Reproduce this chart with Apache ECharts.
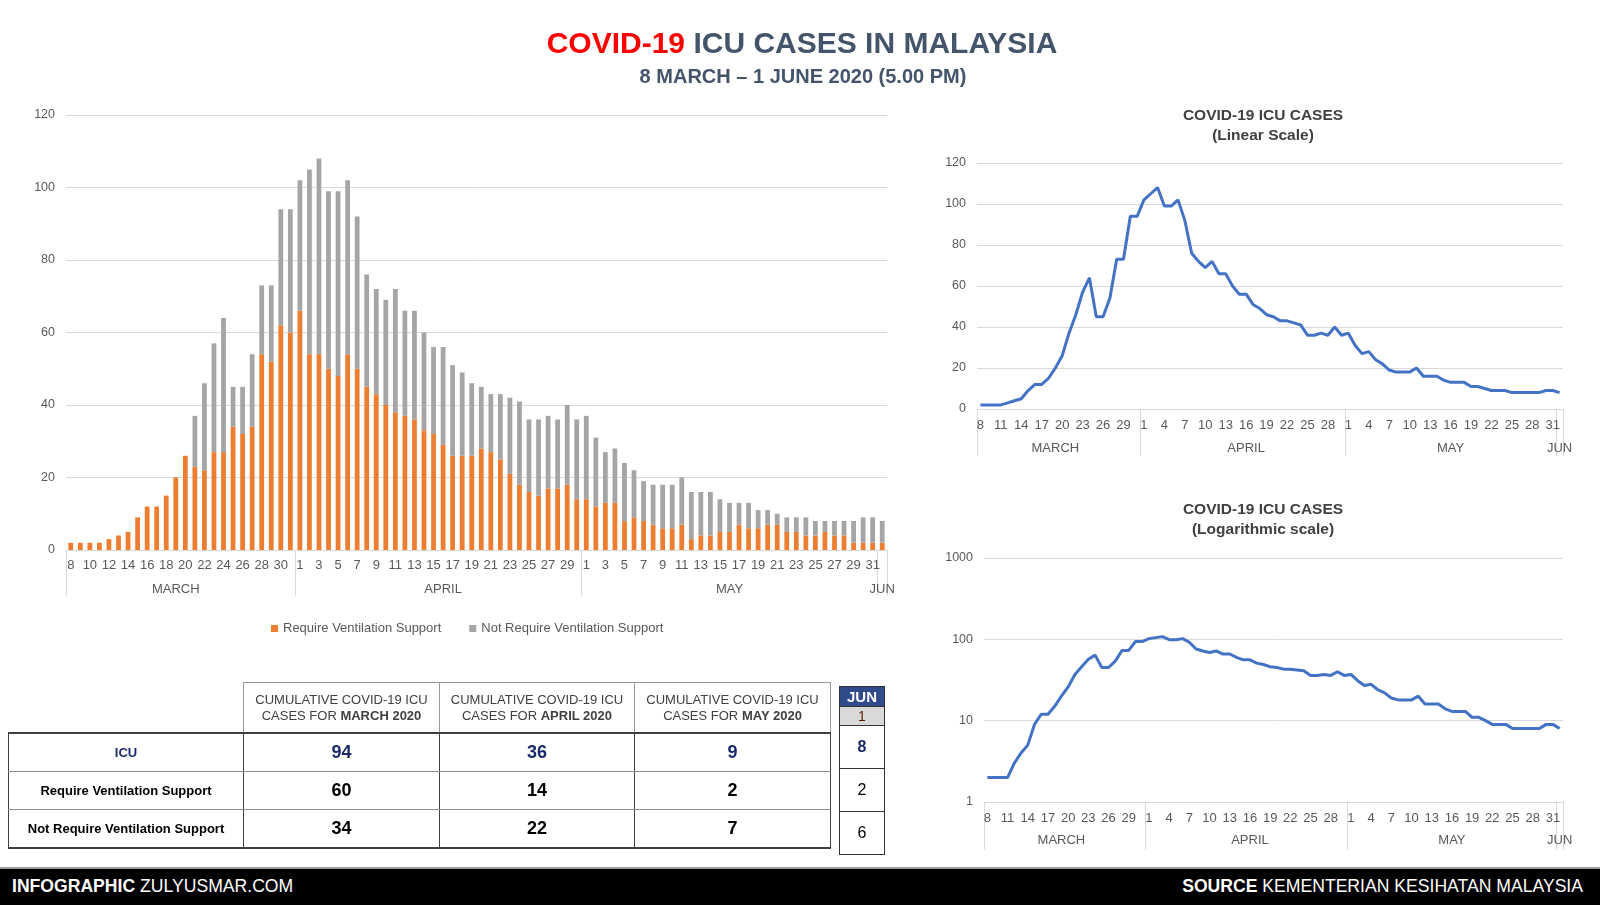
<!DOCTYPE html>
<html>
<head>
<meta charset="utf-8">
<title>COVID-19 ICU Cases in Malaysia</title>
<script src="https://cdn.jsdelivr.net/npm/echarts@6/dist/echarts.min.js"></script>
<style>
  html, body { margin: 0; padding: 0; background: #fff; }
  #page { position: relative; width: 1600px; height: 905px; overflow: hidden; font-family: 'Liberation Sans', Arial, sans-serif; }
  #echarts { position: absolute; left: 0; top: 0; width: 1600px; height: 905px; }
  #summary { position: absolute; left: 8px; top: 682px; border-collapse: collapse; table-layout: fixed; }
  #summary td { text-align: center; padding: 0; }
  #summary tr.hd td { height: 49px; font-size: 13px; line-height: 16px; color: #404040; border: 1px solid #9a9a9a; border-bottom: 2px solid #404040; }
  #summary tr.hd td.blank { border: none; border-bottom: 2px solid #404040; }
  #summary tr.row td { height: 37px; border: 1px solid #404040; border-top: 1px solid #8c8c8c; border-bottom: 1px solid #8c8c8c; font-weight: bold; font-size: 18px; color: #000; }
  #summary tr.row td.lab { font-size: 13px; }
  #summary tr.row.first td { color: #1b2a6b; }
  #summary tr.row.last td { border-bottom: 2px solid #404040; }
  #jun { position: absolute; left: 839px; top: 686px; width: 46px; border-collapse: collapse; }
  #jun td { text-align: center; padding: 0; border: 1px solid #333; font-size: 16px; }
  #jun td.m { background: #2f4b8c; color: #fff; font-weight: bold; font-size: 15px; height: 19px; }
  #jun td.d { background: #d9d9d9; color: #5a1a00; font-size: 14px; height: 18px; }
  #jun td.v { height: 42px; color: #000; }
  #jun td.v.b { color: #1b2a6b; font-weight: bold; }
  #footer { position: absolute; left: 0; top: 867px; width: 1600px; height: 38px; background: #000; border-top: 2px solid #9a9a9a; color: #fff; font-size: 17.6px; line-height: 34px; }
  #footer .l { position: absolute; left: 12px; }
  #footer .r { position: absolute; right: 17px; }
</style>
</head>
<body>
<div id="page">
  <div id="echarts"></div>
  <table id="summary"></table>
  <table id="jun"></table>
  <div id="footer">
    <span class="l"><b>INFOGRAPHIC</b> ZULYUSMAR.COM</span>
    <span class="r"><b>SOURCE</b> KEMENTERIAN KESIHATAN MALAYSIA</span>
  </div>
</div>
<script>
// months on the category axis: 8 Mar .. 1 Jun
var monthNames = ['MARCH', 'APRIL', 'MAY', 'JUN'];
var monthDays = [[8, 31], [1, 30], [1, 31], [1, 1]];
var monthLabelAt = [11, 39, 69, 85];

// daily ICU cases, 8 Mar .. 1 Jun
var requireVent = [
    2, 2, 2, 2, 3, 4, 5, 9, 12, 12, 15, 20, 26, 23, 22, 27, 27, 34, 32, 34, 54, 52, 62, 60,
    66, 54, 54, 50, 48, 54, 50, 45, 43, 40, 38, 37, 36, 33, 32, 29, 26, 26, 26, 28, 27, 25, 21, 18, 16, 15, 17, 17, 18, 14,
    14, 12, 13, 13, 8, 9, 8, 7, 6, 6, 7, 3, 4, 4, 5, 5, 7, 6, 6, 7, 7, 5, 5, 4, 4, 5, 4, 4, 2, 2, 2,
    2
];
var notRequireVent = [
    0, 0, 0, 0, 0, 0, 0, 0, 0, 0, 0, 0, 0, 14, 24, 30, 37, 11, 13, 20, 19, 21, 32, 34,
    36, 51, 54, 49, 51, 48, 42, 31, 29, 29, 34, 29, 30, 27, 24, 27, 25, 23, 20, 17, 16, 18, 21, 23, 20, 21, 20, 19, 22, 22,
    23, 19, 14, 15, 16, 13, 11, 11, 12, 12, 13, 13, 12, 12, 9, 8, 6, 7, 5, 4, 3, 4, 4, 5, 4, 3, 4, 4, 6, 7, 7,
    6
];
var icuTotal = [
    2, 2, 2, 2, 3, 4, 5, 9, 12, 12, 15, 20, 26, 37, 46, 57, 64, 45, 45, 54, 73, 73, 94, 94,
    102, 105, 108, 99, 99, 102, 92, 76, 72, 69, 72, 66, 66, 60, 56, 56, 51, 49, 46, 45, 43, 43, 42, 41, 36, 36, 37, 36, 40, 36,
    37, 31, 27, 28, 24, 22, 19, 18, 18, 18, 20, 16, 16, 16, 14, 13, 13, 13, 11, 11, 10, 9, 9, 9, 8, 8, 8, 8, 8, 9, 9,
    8
];

// summary table
var tableMonths = ['MARCH 2020', 'APRIL 2020', 'MAY 2020'];
var tableRowLabels = ['ICU', 'Require Ventilation Support', 'Not Require Ventilation Support'];
var tableValues = [[94, 36, 9], [60, 14, 2], [34, 22, 7]];
var junValues = [8, 2, 6];

var dayLabels = [], monthRow = [], monthStart = [];
monthNames.forEach(function (m, i) {
    monthStart.push(dayLabels.length);
    for (var d = monthDays[i][0]; d <= monthDays[i][1]; d++) {
        dayLabels.push(String(d));
        monthRow.push('');
    }
    monthRow[monthLabelAt[i]] = m;
});

var FONT = "'Liberation Sans', Arial, sans-serif";
var GREY_TXT = '#595959';
var GRID_LINE = '#d9d9d9';

function isMonthEdge(idx) {
    return monthStart.indexOf(idx) !== -1;
}

function dayAxis(grid, every, margin) {
    return {
        gridIndex: grid,
        type: 'category',
        data: dayLabels,
        axisLine: {lineStyle: {color: GRID_LINE}},
        axisTick: {show: false},
        axisLabel: {interval: every, color: GREY_TXT, fontSize: 13, margin: margin, fontFamily: FONT}
    };
}

function monthAxis(grid, margin, tick) {
    return {
        gridIndex: grid,
        type: 'category',
        data: monthRow,
        position: 'bottom',
        axisLine: {show: false},
        axisTick: {show: true, interval: isMonthEdge, length: tick, lineStyle: {color: GRID_LINE}},
        axisLabel: {interval: 0, color: GREY_TXT, fontSize: 13, margin: margin, fontFamily: FONT},
        splitLine: {show: false}
    };
}

function valueAxis(grid, extra) {
    var axis = {
        gridIndex: grid,
        type: 'value',
        min: 0,
        max: 120,
        interval: 20,
        axisLine: {show: false},
        axisTick: {show: false},
        axisLabel: {color: GREY_TXT, fontSize: 12.5, margin: 11, fontFamily: FONT},
        splitLine: {lineStyle: {color: GRID_LINE}}
    };
    return Object.assign(axis, extra || {});
}

var myChart = echarts.init(document.getElementById('echarts')),
    option = {
        animation: false,
        backgroundColor: '#fff',
        title: [
            {
                text: '{red|COVID-19} ICU CASES IN MALAYSIA',
                left: 797, top: 25, textAlign: 'center',
                textStyle: {
                    fontSize: 30, fontWeight: 'bold', color: '#44546a', fontFamily: FONT,
                    rich: {red: {fontSize: 30, fontWeight: 'bold', color: '#ff0000', fontFamily: FONT}}
                }
            }, {
                text: '8 MARCH \u2013 1 JUNE 2020 (5.00 PM)',
                left: 798, top: 62, textAlign: 'center',
                textStyle: {fontSize: 20, fontWeight: 'bold', color: '#44546a', fontFamily: FONT}
            }, {
                text: 'COVID-19 ICU CASES\n(Linear Scale)',
                left: 1258, top: 101, textAlign: 'center',
                textStyle: {fontSize: 15.5, fontWeight: 'bold', color: '#404040', lineHeight: 20, fontFamily: FONT}
            }, {
                text: 'COVID-19 ICU CASES\n(Logarithmic scale)',
                left: 1258, top: 495, textAlign: 'center',
                textStyle: {fontSize: 15.5, fontWeight: 'bold', color: '#404040', lineHeight: 20, fontFamily: FONT}
            }
        ],
        legend: {
            data: ['Require Ventilation Support', 'Not Require Ventilation Support'],
            left: 266, top: 617,
            icon: 'rect', itemWidth: 7, itemHeight: 7, itemGap: 28,
            textStyle: {color: GREY_TXT, fontSize: 13, fontFamily: FONT}
        },
        grid: [
            {left: 66, top: 115, width: 821, height: 435},
            {left: 977, top: 163, width: 586, height: 246},
            {left: 984, top: 558, width: 579, height: 244}
        ],
        xAxis: [
            dayAxis(0, 1, 9),
            monthAxis(0, 33, 46),
            dayAxis(1, 2, 10),
            monthAxis(1, 33, 47),
            dayAxis(2, 2, 10),
            monthAxis(2, 32, 48)
        ],
        yAxis: [
            valueAxis(0),
            valueAxis(1),
            valueAxis(2, {
                type: 'log', logBase: 10, min: 1, max: 1000, interval: null,
                axisLabel: {color: GREY_TXT, fontSize: 12.5, margin: 11, fontFamily: FONT,
                    formatter: function (v) { return String(v); }}
            })
        ],
        series: [
            {
                name: 'Require Ventilation Support',
                type: 'bar',
                stack: 'icu',
                xAxisIndex: 0, yAxisIndex: 0,
                barWidth: '50%',
                itemStyle: {color: '#ed7d31'},
                data: requireVent
            }, {
                name: 'Not Require Ventilation Support',
                type: 'bar',
                stack: 'icu',
                xAxisIndex: 0, yAxisIndex: 0,
                barWidth: '50%',
                itemStyle: {color: '#a5a5a5'},
                data: notRequireVent
            }, {
                name: 'ICU (linear)',
                type: 'line',
                xAxisIndex: 2, yAxisIndex: 1,
                showSymbol: false, symbol: 'none',
                lineStyle: {color: '#4472c4', width: 3},
                itemStyle: {color: '#4472c4'},
                data: icuTotal
            }, {
                name: 'ICU (log)',
                type: 'line',
                xAxisIndex: 4, yAxisIndex: 2,
                showSymbol: false, symbol: 'none',
                lineStyle: {color: '#4472c4', width: 3},
                itemStyle: {color: '#4472c4'},
                data: icuTotal
            }
        ]
    };

myChart.setOption(option);

// summary table under the bar chart
var html = '<colgroup><col style="width:235px"><col style="width:196px"><col style="width:195px"><col style="width:196px"></colgroup>';
html += '<tr class="hd"><td class="blank"></td>';
tableMonths.forEach(function (m) {
    html += '<td>CUMULATIVE COVID-19 ICU<br>CASES FOR <b>' + m + '</b></td>';
});
html += '</tr>';
tableRowLabels.forEach(function (lab, r) {
    var cls = 'row' + (r === 0 ? ' first' : '') + (r === tableRowLabels.length - 1 ? ' last' : '');
    html += '<tr class="' + cls + '"><td class="lab">' + lab + '</td>';
    tableValues[r].forEach(function (v) { html += '<td>' + v + '</td>'; });
    html += '</tr>';
});
document.getElementById('summary').innerHTML = html;

var jun = '<tr><td class="m">JUN</td></tr><tr><td class="d">1</td></tr>';
junValues.forEach(function (v, i) {
    jun += '<tr><td class="v' + (i === 0 ? ' b' : '') + '">' + v + '</td></tr>';
});
document.getElementById('jun').innerHTML = jun;
</script>
</body>
</html>
